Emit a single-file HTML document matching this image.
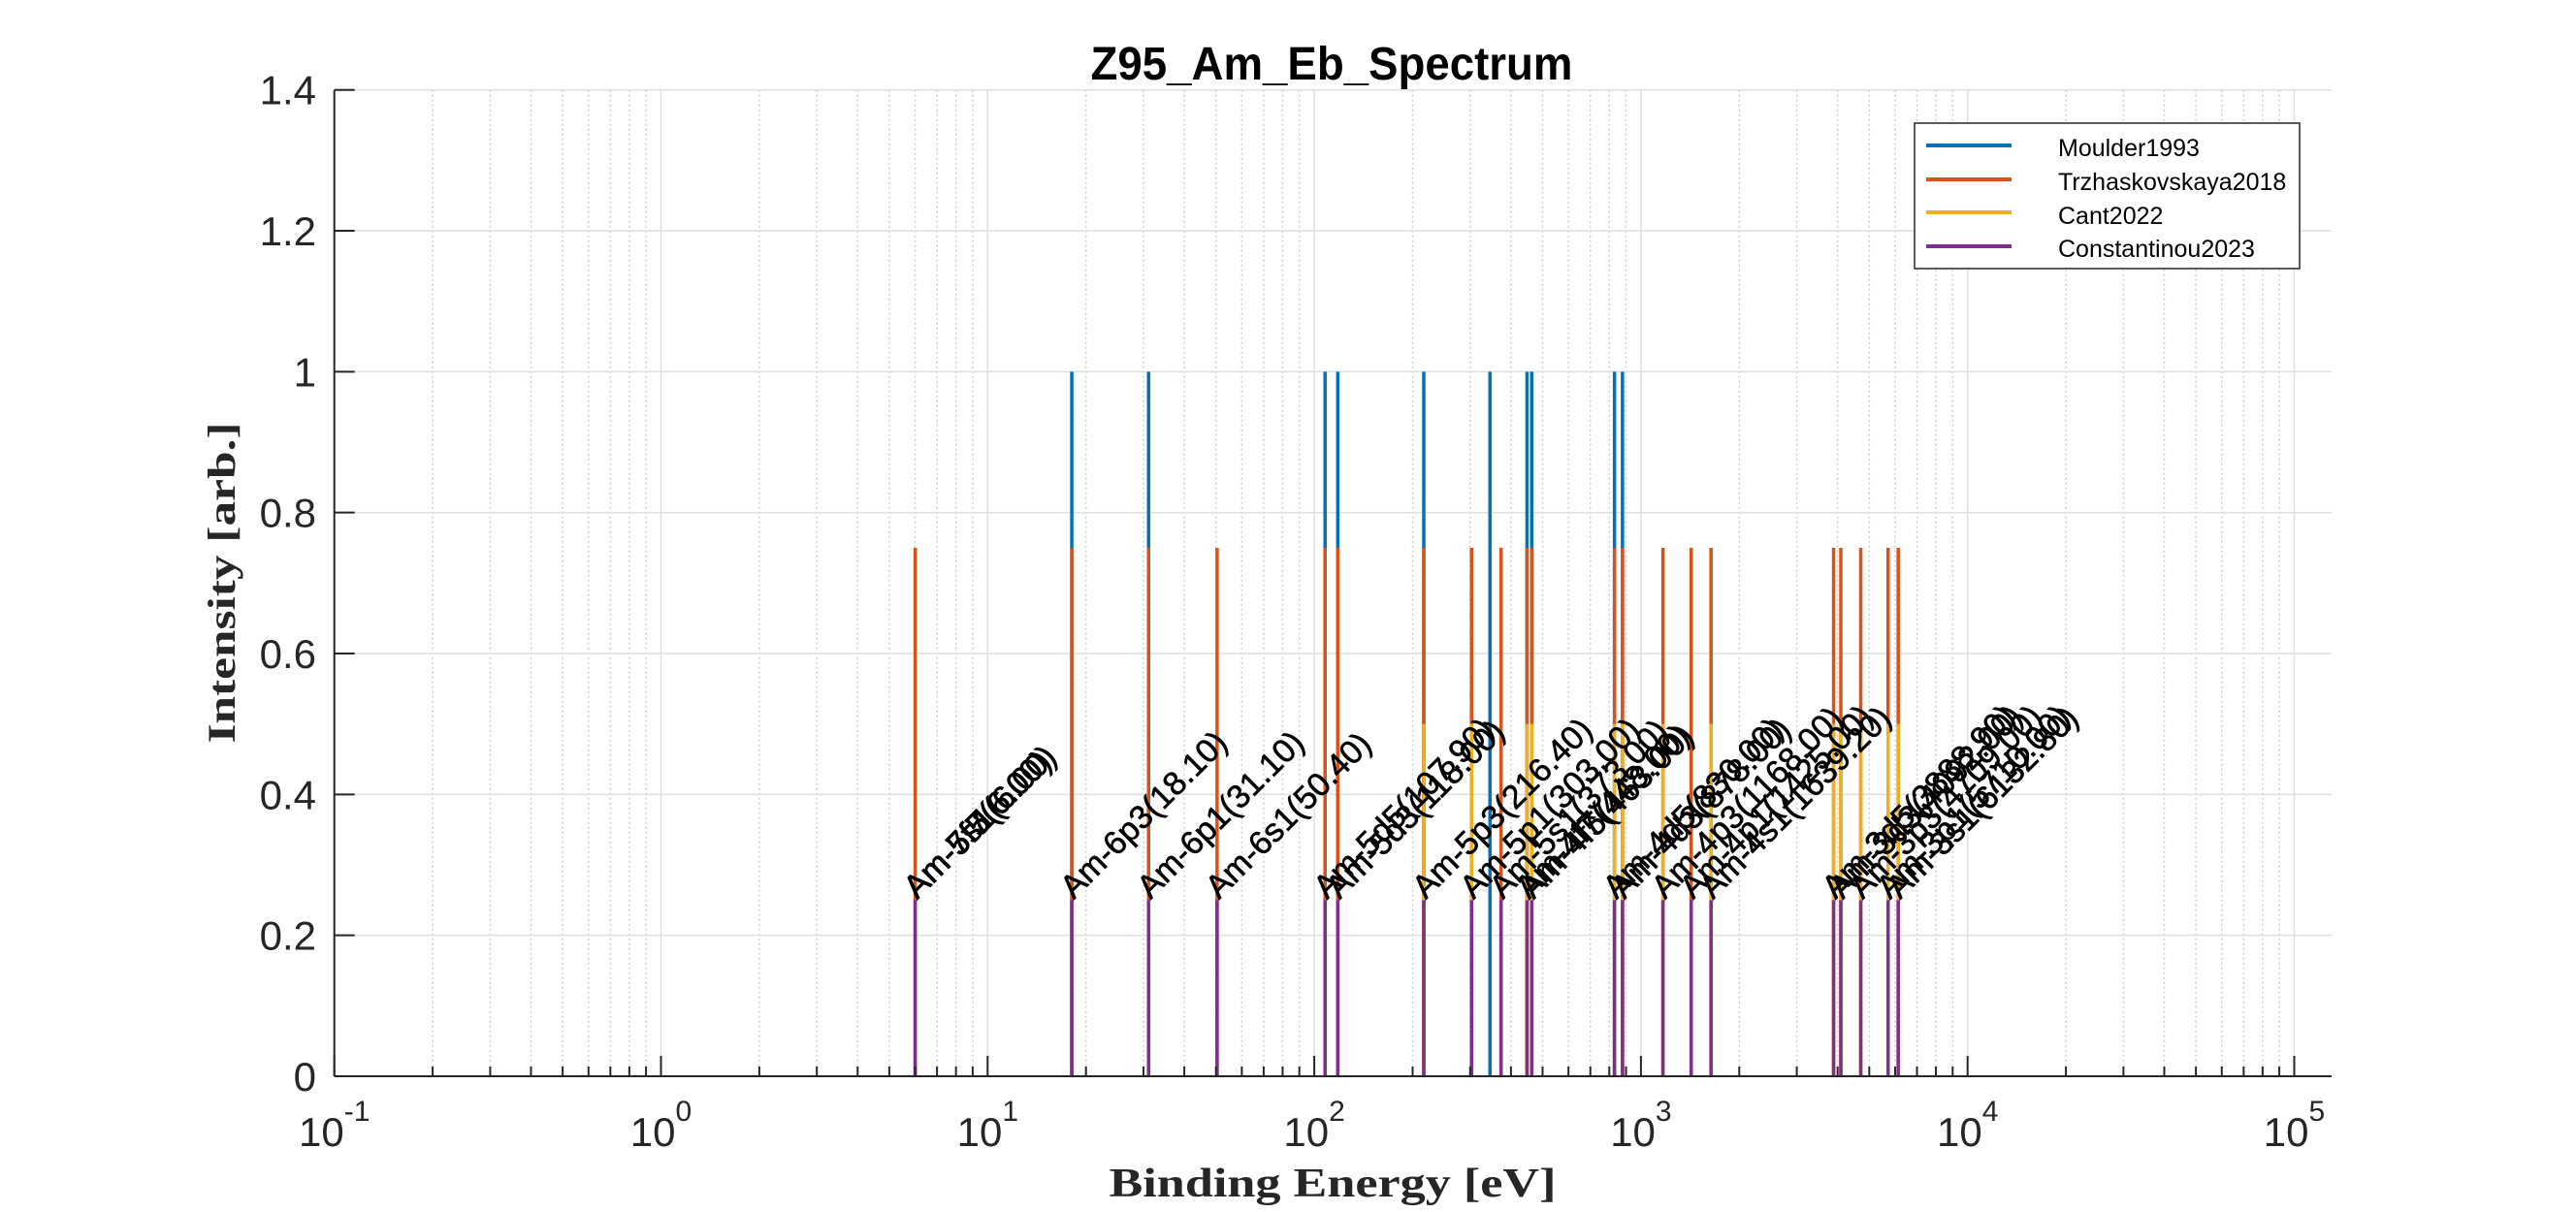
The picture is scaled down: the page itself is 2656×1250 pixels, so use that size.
<!DOCTYPE html>
<html><head><meta charset="utf-8"><style>
html,body{margin:0;padding:0;background:#fff;}
svg{display:block;font-family:"Liberation Sans",Arial,sans-serif;}
</style></head><body>
<svg id="chart" width="2656" height="1250" viewBox="0 0 2656 1250" xmlns="http://www.w3.org/2000/svg">
<rect width="2656" height="1250" fill="#fff"/>
<g id="grid"></g>
<g id="stems"></g>
<g id="labels"></g>
<g id="axes"></g>
<text x="1373" y="82" text-anchor="middle" font-size="48" font-weight="bold" textLength="497" lengthAdjust="spacingAndGlyphs">Z95_Am_Eb_Spectrum</text>
<text x="1374" y="1234" text-anchor="middle" font-family="Liberation Serif, serif" font-size="42" font-weight="bold" fill="#262626" textLength="461" lengthAdjust="spacingAndGlyphs">Binding Energy [eV]</text>
<text transform="translate(242,601) rotate(-90)" text-anchor="middle" font-family="Liberation Serif, serif" font-size="40" font-weight="bold" fill="#262626" textLength="331" lengthAdjust="spacingAndGlyphs">Intensity [arb.]</text>
<g id="legend">
<rect x="1974" y="127" width="397" height="150" fill="#fff" stroke="#262626" stroke-width="1.5"/>
<line x1="1986" y1="150" x2="2074" y2="150" stroke="#0072BD" stroke-width="4"/>
<text x="2122" y="161" font-size="25">Moulder1993</text>
<line x1="1986" y1="185" x2="2074" y2="185" stroke="#D95319" stroke-width="4"/>
<text x="2122" y="196" font-size="25">Trzhaskovskaya2018</text>
<line x1="1986" y1="219" x2="2074" y2="219" stroke="#EDB120" stroke-width="4"/>
<text x="2122" y="231" font-size="25">Cant2022</text>
<line x1="1986" y1="254" x2="2074" y2="254" stroke="#7E2F8E" stroke-width="4"/>
<text x="2122" y="265" font-size="25">Constantinou2023</text>
</g>
</svg>
<script>
const moulderE = [18.1, 31.1, 107.9, 118, 216.4, 345, 448, 463, 830, 878];
const moulderI = 1.0;
const trzhE = [6, 18.1, 31.1, 50.4, 107.9, 118, 216.4, 303, 373, 448, 463, 830, 878, 1168, 1425, 1639.2, 3888.9, 4092, 4709, 5710, 6132.8];
const trzhI = 0.75;
const cantE = [216.4, 303, 448, 463, 830, 878, 1168, 1639.2, 3888.9, 4092, 4709, 5710, 6132.8];
const cantI = 0.5;
const constE = [6, 18.1, 31.1, 50.4, 107.9, 118, 216.4, 303, 373, 448, 463, 830, 878, 1168, 1425, 1639.2, 3888.9, 4092, 4709, 5710, 6132.8];
const constI = 0.25;
const labelNames = ["Am-5f5","Am-5f7","Am-7s1","Am-6p3","Am-6p1","Am-6s1","Am-5d5","Am-5d3","Am-5p3","Am-5p1","Am-5s1","Am-4f7","Am-4f5","Am-4d5","Am-4d3","Am-4p3","Am-4p1","Am-4s1","Am-3d5","Am-3d3","Am-3p3","Am-3p1","Am-3s1"];
const labelE = [6, 6, 6, 18.1, 31.1, 50.4, 107.9, 118, 216.4, 303, 373, 448, 463, 830, 878, 1168, 1425, 1639.2, 3888.9, 4092, 4709, 5710, 6132.8];
const yTicks = [0, 0.2, 0.4, 0.6, 0.8, 1, 1.2, 1.4];
const yTickLabels = ["0","0.2","0.4","0.6","0.8","1","1.2","1.4"];
const xDecades = [-1, 0, 1, 2, 3, 4, 5];

const NS = "http://www.w3.org/2000/svg";
const X0 = 344.7, DEC = 336.8, XMAX = 2404, Y0 = 1110, YTOP = 92.7;
function xs(v){ return X0 + (Math.log10(v) + 1) * DEC; }
function ys(v){ return Y0 - v / 1.4 * (Y0 - YTOP); }
function mk(tag, attrs, parent){ const e = document.createElementNS(NS, tag); for (const k in attrs) e.setAttribute(k, attrs[k]); parent.appendChild(e); return e; }
const grid = document.getElementById('grid'), axes = document.getElementById('axes'), stems = document.getElementById('stems'), labels = document.getElementById('labels');

for (const d of xDecades) {
  for (let m = 1; m <= 9; m++) {
    const x = xs(m * Math.pow(10, d));
    if (x > XMAX) continue;
    const l = mk('line', {x1:x, y1:YTOP, x2:x, y2:Y0, stroke: m===1?'#dfdfdf':'#cfcfcf', 'stroke-width':1.5, 'stroke-dasharray': m===1?'none':'2,3'}, grid);
    
    
  }
}
yTicks.forEach(v => {
  const l = mk('line', {x1:X0, y1:ys(v), x2:XMAX, y2:ys(v), stroke:'#dfdfdf', 'stroke-width':1.5}, grid);
  
  
});

function drawSeries(arr, h, color, name){
  arr.forEach(e => {
    const l = mk('line', {x1:xs(e), y1:ys(0), x2:xs(e), y2:ys(h), stroke:color, 'stroke-width':3.5}, stems);
    
    
  });
}
drawSeries(moulderE, moulderI, '#0072BD', 'moulder1993');
drawSeries(trzhE, trzhI, '#D95319', 'trzhaskovskaya2018');
drawSeries(cantE, cantI, '#EDB120', 'cant2022');
drawSeries(constE, constI, '#7E2F8E', 'constantinou2023');

labelE.forEach((e, i) => {
  const x = xs(e) + 2, y = ys(constI);
  const t = mk('text', {x:0, y:0, 'font-size':34, fill:'#000', stroke:'#000', 'stroke-width':0.6, transform:`translate(${x},${y}) rotate(-45)`}, labels);
  t.textContent = labelNames[i] + '(' + e.toFixed(2) + ')';
  
  
});

const ax = mk('line', {x1:X0, y1:Y0, x2:XMAX, y2:Y0, stroke:'#262626', 'stroke-width':2}, axes);


const ay = mk('line', {x1:X0, y1:YTOP, x2:X0, y2:Y0, stroke:'#262626', 'stroke-width':2}, axes);


for (const d of xDecades) {
  for (let m = 1; m <= 9; m++) {
    const x = xs(m * Math.pow(10, d));
    if (x > XMAX) continue;
    const len = m===1 ? 21 : 10;
    const t = mk('line', {x1:x, y1:Y0, x2:x, y2:Y0-len, stroke:'#262626', 'stroke-width':2}, axes);
    
    
  }
  const lab = mk('text', {x:xs(Math.pow(10,d)), y:1182, 'text-anchor':'middle', 'font-size':42, fill:'#262626'}, axes);
  
  
  const base = document.createElementNS(NS, 'tspan'); base.textContent = '10'; lab.appendChild(base);
  const sup = document.createElementNS(NS, 'tspan'); sup.setAttribute('dy', '-26'); sup.setAttribute('font-size', '30'); sup.textContent = (d < 0 ? '-' : '') + Math.abs(d); lab.appendChild(sup);
}
yTicks.forEach((v, i) => {
  const t = mk('line', {x1:X0, y1:ys(v), x2:X0+21, y2:ys(v), stroke:'#262626', 'stroke-width':2}, axes);
  
  
  const lab = mk('text', {x:326, y:ys(v)+15, 'text-anchor':'end', 'font-size':42, fill:'#262626'}, axes);
  lab.textContent = yTickLabels[i];
  
  
});
</script>
</body></html>
